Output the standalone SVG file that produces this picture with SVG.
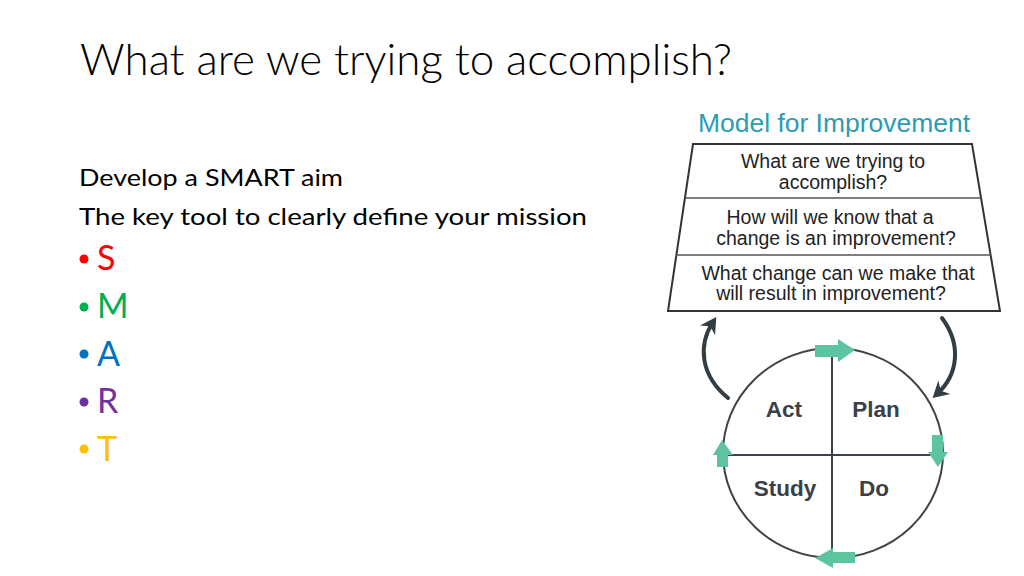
<svg xmlns="http://www.w3.org/2000/svg" width="1024" height="576" viewBox="0 0 1024 576">
  <style>
    .title { font-family: Lato, "Open Sans", "Liberation Sans", sans-serif; font-weight: 300; font-size: 43px; fill: #000; }
    .body { font-family: Lato, "Open Sans", "Liberation Sans", sans-serif; font-size: 24px; fill: #000; }
    .letter { font-family: Lato, "Open Sans", "Liberation Sans", sans-serif; font-size: 34px; }
    .q { font-family: "Liberation Sans", Arial, sans-serif; font-size: 19.5px; fill: #222; text-anchor: middle; }
    .model { font-family: "Liberation Sans", Arial, sans-serif; font-size: 26px; fill: #2b9db2; }
    .pdsa { font-family: "Liberation Sans", Arial, sans-serif; font-weight: bold; font-size: 22.5px; fill: #3b4046; text-anchor: middle; }
    .frame { fill: #fff; stroke: #333; stroke-width: 2; }
    .div { stroke: #555; stroke-width: 1.5; }
    .ring { fill: none; stroke: #3d4348; stroke-width: 2; }
    .green { fill: #5cc49e; }
    .curve { fill: none; stroke: #333d44; stroke-width: 4; stroke-linecap: round; }
  </style>
  <defs>
    <marker id="head" markerUnits="userSpaceOnUse" markerWidth="22" markerHeight="22" viewBox="0 0 22 22" refX="12" refY="11" orient="auto">
      <path d="M2,2 L18,11 L2,20 L7,11 z" fill="#333d44"/>
    </marker>
  </defs>
  <rect width="1024" height="576" fill="#fff"/>

  <g id="title">
    <text class="title" x="80" y="75" textLength="652" lengthAdjust="spacingAndGlyphs">What are we trying to accomplish?</text>
  </g>

  <g id="aim-text">
    <text class="body" x="79" y="186" textLength="264" lengthAdjust="spacingAndGlyphs">Develop a SMART aim</text>
    <text class="body" x="79" y="225" textLength="508" lengthAdjust="spacingAndGlyphs">The key tool to clearly define your mission</text>
  </g>

  <g id="smart-list">
    <g id="item-s"><circle cx="84" cy="259" r="4.5" fill="#ff0000"/><text class="letter" x="97" y="270" fill="#ff0000">S</text></g>
    <g id="item-m"><circle cx="84" cy="307" r="4.5" fill="#00b050"/><text class="letter" x="97" y="318" fill="#00b050">M</text></g>
    <g id="item-a"><circle cx="84" cy="354" r="4.5" fill="#0070c0"/><text class="letter" x="97" y="366" fill="#0070c0">A</text></g>
    <g id="item-r"><circle cx="84" cy="402" r="4.5" fill="#7030a0"/><text class="letter" x="97" y="413" fill="#7030a0">R</text></g>
    <g id="item-t"><circle cx="84" cy="449" r="4.5" fill="#ffc000"/><text class="letter" x="97" y="461" fill="#ffc000">T</text></g>
  </g>

  <g id="model-title">
    <text class="model" x="698" y="132" textLength="272" lengthAdjust="spacingAndGlyphs">Model for Improvement</text>
  </g>

  <g id="questions">
    <polygon class="frame" points="693,144 972,144 1000,311 668,311"/>
    <line class="div" x1="685" y1="198" x2="981" y2="198"/>
    <line class="div" x1="676" y1="255" x2="991" y2="255"/>
    <g id="q1">
      <text class="q" x="833" y="168">What are we trying to</text>
      <text class="q" x="833" y="189">accomplish?</text>
    </g>
    <g id="q2">
      <text class="q" x="830" y="224">How will we know that a</text>
      <text class="q" x="836" y="245">change is an improvement?</text>
    </g>
    <g id="q3">
      <text class="q" x="838" y="280">What change can we make that</text>
      <text class="q" x="831" y="300">will result in improvement?</text>
    </g>
  </g>

  <g id="pdsa-cycle">
    <ellipse class="ring" cx="833" cy="453" rx="110" ry="105"/>
    <line class="ring" x1="832" y1="348" x2="832" y2="558"/>
    <line class="ring" x1="723" y1="455" x2="943" y2="455"/>
    <text class="pdsa" x="784" y="417">Act</text>
    <text class="pdsa" x="876" y="417">Plan</text>
    <text class="pdsa" x="785" y="496">Study</text>
    <text class="pdsa" x="874" y="496">Do</text>
  </g>

  <g id="connectors">
    <polygon class="green" points="815,345 838,345 838,339 855,350 838,362 838,357 815,357"/>
    <polygon class="green" points="932,435 943,435 943,452 948,452 938,467 928,452 932,452"/>
    <polygon class="green" points="815,558 833,548 833,552 855,552 855,563 833,563 833,568"/>
    <polygon class="green" points="722,440 733,455 728,455 728,467 717,467 717,455 713,455"/>
    <path class="curve" d="M728,398 C700,375 698,345 713,322" marker-end="url(#head)"/>
    <path class="curve" d="M942,318 C962,345 958,375 937,394" marker-end="url(#head)"/>
  </g>
</svg>
